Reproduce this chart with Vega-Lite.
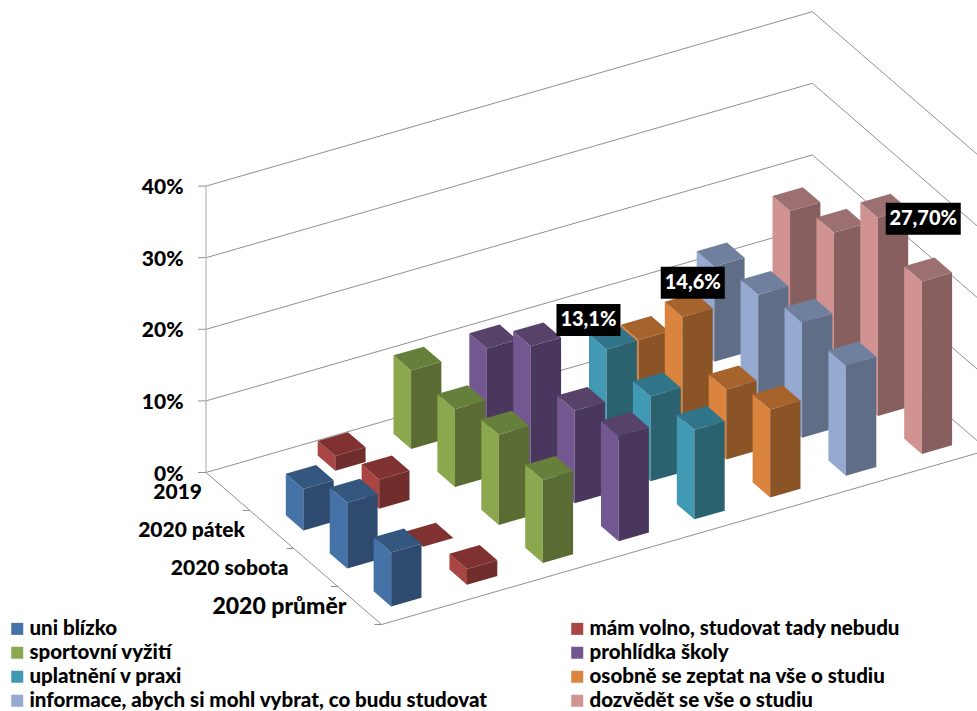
{
  "$schema": "https://vega.github.io/schema/vega-lite/v6.json",
  "width": 977,
  "height": 711,
  "padding": 0,
  "autosize": {"type": "none"},
  "background": "white",
  "config": {"view": {"stroke": null}},
  "datasets": {
    "bars": [
      {"series": "dozvědět se vše o studiu", "period": "2019", "value": 18.0},
      {"series": "dozvědět se vše o studiu", "period": "2020 pátek", "value": 20.3},
      {"series": "dozvědět se vše o studiu", "period": "2020 sobota", "value": 27.7, "label": "27,70%"},
      {"series": "dozvědět se vše o studiu", "period": "2020 průměr", "value": 24.1},
      {"series": "informace, abych si mohl vybrat, co budu studovat", "period": "2019", "value": 13.3},
      {"series": "informace, abych si mohl vybrat, co budu studovat", "period": "2020 pátek", "value": 14.65},
      {"series": "informace, abych si mohl vybrat, co budu studovat", "period": "2020 sobota", "value": 16.1},
      {"series": "informace, abych si mohl vybrat, co budu studovat", "period": "2020 průměr", "value": 15.4},
      {"series": "osobně se zeptat na vše o studiu", "period": "2019", "value": 6.1},
      {"series": "osobně se zeptat na vše o studiu", "period": "2020 pátek", "value": 14.6, "label": "14,6%"},
      {"series": "osobně se zeptat na vše o studiu", "period": "2020 sobota", "value": 9.8},
      {"series": "osobně se zeptat na vše o studiu", "period": "2020 průměr", "value": 12.3},
      {"series": "uplatnění v praxi", "period": "2020 pátek", "value": 13.1, "label": "13,1%"},
      {"series": "uplatnění v praxi", "period": "2020 sobota", "value": 11.85},
      {"series": "uplatnění v praxi", "period": "2020 průměr", "value": 12.5},
      {"series": "prohlídka školy", "period": "2019", "value": 11.0},
      {"series": "prohlídka školy", "period": "2020 pátek", "value": 16.6},
      {"series": "prohlídka školy", "period": "2020 sobota", "value": 12.9},
      {"series": "prohlídka školy", "period": "2020 průměr", "value": 14.7},
      {"series": "sportovní vyžití", "period": "2019", "value": 10.95},
      {"series": "sportovní vyžití", "period": "2020 pátek", "value": 10.85},
      {"series": "sportovní vyžití", "period": "2020 sobota", "value": 12.6},
      {"series": "sportovní vyžití", "period": "2020 průměr", "value": 11.6},
      {"series": "mám volno, studovat tady nebudu", "period": "2019", "value": 2.05},
      {"series": "mám volno, studovat tady nebudu", "period": "2020 pátek", "value": 4.1},
      {"series": "mám volno, studovat tady nebudu", "period": "2020 sobota", "value": 0},
      {"series": "mám volno, studovat tady nebudu", "period": "2020 průměr", "value": 2.2},
      {"series": "uni blízko", "period": "2020 pátek", "value": 5.8},
      {"series": "uni blízko", "period": "2020 sobota", "value": 9.2},
      {"series": "uni blízko", "period": "2020 průměr", "value": 7.55}
    ],
    "levels": [{"level": 0}, {"level": 10}, {"level": 20}, {"level": 30}, {"level": 40}],
    "periods": [
      {"period": "2019"},
      {"period": "2020 pátek"},
      {"period": "2020 sobota"},
      {"period": "2020 průměr"}
    ],
    "stops": [{"stop": 0}, {"stop": 1}, {"stop": 2}, {"stop": 3}, {"stop": 4}]
  },
  "encoding": {
    "x": {"field": "px", "type": "quantitative", "axis": null, "scale": {"domain": [0, 977], "range": [0, 977], "nice": false, "zero": false}},
    "y": {"field": "py", "type": "quantitative", "axis": null, "scale": {"domain": [0, 711], "range": [0, 711], "nice": false, "zero": false}}
  },
  "layer": [
    {
      "description": "Wall grid lines: back wall, then the right side wall",
      "data": {"name": "levels"},
      "transform": [
        {"calculate": "[0, 1, 2]", "as": "v"},
        {"flatten": ["v"]},
        {"calculate": "206 + 75.8 * [0, 8, 8][datum.v] + 43.9 * [0, 0, 4][datum.v]", "as": "px"},
        {"calculate": "472.5 - 21.8 * [0, 8, 8][datum.v] + 38 * [0, 0, 4][datum.v] - 7.16 * datum.level", "as": "py"}
      ],
      "mark": {"type": "line", "stroke": "#8f8f8f", "strokeWidth": 1, "clip": true},
      "encoding": {"detail": {"field": "level"}, "order": {"field": "v"}}
    },
    {
      "description": "Floor edges on the left and front",
      "data": {"values": [{"v": 0}, {"v": 1}, {"v": 2}]},
      "transform": [
        {"calculate": "206 + 75.8 * [0, 0, 8][datum.v] + 43.9 * [0, 4, 4][datum.v]", "as": "px"},
        {"calculate": "472.5 - 21.8 * [0, 0, 8][datum.v] + 38 * [0, 4, 4][datum.v]", "as": "py"}
      ],
      "mark": {"type": "line", "stroke": "#8f8f8f", "strokeWidth": 1, "clip": true},
      "encoding": {"order": {"field": "v"}}
    },
    {
      "description": "Vertical value axis line",
      "data": {"values": [{"v": 0}, {"v": 40}]},
      "transform": [
        {"calculate": "206", "as": "px"},
        {"calculate": "472.5 - 7.16 * datum.v", "as": "py"}
      ],
      "mark": {"type": "line", "stroke": "#c4c4c4", "strokeWidth": 1.5},
      "encoding": {"order": {"field": "v"}}
    },
    {
      "description": "Value axis ticks",
      "data": {"name": "levels"},
      "transform": [
        {"calculate": "206", "as": "px"},
        {"calculate": "198", "as": "px2"},
        {"calculate": "472.5 - 7.16 * datum.level", "as": "py"}
      ],
      "mark": {"type": "rule", "stroke": "#8f8f8f", "strokeWidth": 1},
      "encoding": {"x2": {"field": "px2"}}
    },
    {
      "description": "Period axis ticks along the floor edge",
      "data": {"name": "stops"},
      "transform": [
        {"calculate": "206 + 43.9 * datum.stop", "as": "px"},
        {"calculate": "datum.px - 7", "as": "px2"},
        {"calculate": "472.5 + 38 * datum.stop", "as": "py"}
      ],
      "mark": {"type": "rule", "stroke": "#8f8f8f", "strokeWidth": 1},
      "encoding": {"x2": {"field": "px2"}}
    },
    {
      "description": "Value axis labels",
      "data": {"name": "levels"},
      "transform": [
        {"calculate": "183.5", "as": "px"},
        {"calculate": "474.5 - 7.16 * datum.level", "as": "py"},
        {"calculate": "datum.level + '%'", "as": "txt"}
      ],
      "mark": {"type": "text", "align": "right", "baseline": "middle", "font": "Lato", "fontSize": 21, "fontWeight": 900, "color": "black"},
      "encoding": {"text": {"field": "txt"}}
    },
    {
      "description": "Period labels beside the floor edge; the nearest one is set a little larger",
      "data": {"name": "periods"},
      "transform": [
        {"calculate": "indexof(['2019', '2020 pátek', '2020 sobota', '2020 průměr'], datum.period)", "as": "j"},
        {"calculate": "[202, 245, 288.5, 346.5][datum.j]", "as": "px"},
        {"calculate": "493 + 38 * datum.j", "as": "py"}
      ],
      "mark": {"type": "text", "align": "right", "baseline": "middle", "font": "Lato", "fontWeight": 900, "color": "black"},
      "encoding": {
        "text": {"field": "period"},
        "size": {"condition": {"test": "datum.j == 3", "value": 23}, "value": 21}
      }
    },
    {
      "description": "Bar faces, painted back to front; each bar has a left, a right and a top face",
      "data": {"name": "bars"},
      "transform": [
        {"calculate": "indexof(['uni blízko', 'mám volno, studovat tady nebudu', 'sportovní vyžití', 'prohlídka školy', 'uplatnění v praxi', 'osobně se zeptat na vše o studiu', 'informace, abych si mohl vybrat, co budu studovat', 'dozvědět se vše o studiu'], datum.series)", "as": "i"},
        {"calculate": "indexof(['2019', '2020 pátek', '2020 sobota', '2020 průměr'], datum.period)", "as": "j"},
        {"calculate": "[0, 1, 2]", "as": "f"},
        {"flatten": ["f"]},
        {"calculate": "[0, 1, 2, 3]", "as": "v"},
        {"flatten": ["v"]},
        {"calculate": "datum.i + 0.3 + [[0, 0, 0, 0], [0, 0.4, 0.4, 0], [0, 0, 0.4, 0.4]][datum.f][datum.v]", "as": "s"},
        {"calculate": "datum.j + 0.3 + [[0, 0.4, 0.4, 0], [0.4, 0.4, 0.4, 0.4], [0, 0.4, 0.4, 0]][datum.f][datum.v]", "as": "c"},
        {"calculate": "datum.value * [[0, 0, 1, 1], [0, 0, 1, 1], [1, 1, 1, 1]][datum.f][datum.v]", "as": "h"},
        {"calculate": "206 + 75.8 * datum.s + 43.9 * datum.c", "as": "px"},
        {"calculate": "472.5 - 21.8 * datum.s + 38 * datum.c - 7.16 * datum.h", "as": "py"},
        {"calculate": "datum.i + ':' + ['left', 'right', 'top'][datum.f]", "as": "shade"},
        {"calculate": "'bar ' + datum.i + '/' + datum.j + '/' + datum.f", "as": "face"}
      ],
      "mark": {"type": "line", "filled": true, "strokeWidth": 0, "interpolate": "linear-closed"},
      "encoding": {
        "detail": {"field": "face"},
        "order": {"field": "v"},
        "fill": {
          "field": "shade",
          "type": "nominal",
          "legend": null,
          "scale": {
            "domain": ["0:left", "0:right", "0:top", "1:left", "1:right", "1:top", "2:left", "2:right", "2:top", "3:left", "3:right", "3:top", "4:left", "4:right", "4:top", "5:left", "5:right", "5:top", "6:left", "6:right", "6:top", "7:left", "7:right", "7:top"],
            "range": ["#4573a7", "#2e4a6e", "#33577f", "#a94644", "#6f2d2b", "#803231", "#8ca84f", "#5a6b33", "#66803b", "#735790", "#49375d", "#574369", "#4299b3", "#2a6270", "#31758a", "#db843d", "#8a5427", "#a6632b", "#95a9d1", "#5f6d86", "#6f809f", "#d19392", "#875f5f", "#9c7070"]
          }
        }
      }
    },
    {
      "description": "Black callout boxes behind the three stated values",
      "data": {"name": "bars"},
      "transform": [
        {"filter": "datum.label"},
        {"calculate": "indexof(['uni blízko', 'mám volno, studovat tady nebudu', 'sportovní vyžití', 'prohlídka školy', 'uplatnění v praxi', 'osobně se zeptat na vše o studiu', 'informace, abych si mohl vybrat, co budu studovat', 'dozvědět se vše o studiu'], datum.series)", "as": "i"},
        {"calculate": "indexof(['2019', '2020 pátek', '2020 sobota', '2020 průměr'], datum.period)", "as": "j"},
        {"calculate": "206 + 75.8 * (datum.i + 0.5) + 43.9 * (datum.j + 0.5) + (datum.i == 4 ? -24.5 : datum.i == 5 ? 4 : 39)", "as": "cx"},
        {"calculate": "472.5 - 21.8 * (datum.i + 0.5) + 38 * (datum.j + 0.5) - 7.16 * datum.value + (datum.i == 4 ? -17.6 : datum.i == 5 ? -22.4 : 13)", "as": "cy"},
        {"calculate": "datum.label == '27,70%' ? 37.5 : 32", "as": "hw"},
        {"calculate": "datum.cx - datum.hw", "as": "px"},
        {"calculate": "datum.cx + datum.hw", "as": "px2"},
        {"calculate": "datum.cy - 16", "as": "py"},
        {"calculate": "datum.cy + 16", "as": "py2"}
      ],
      "mark": {"type": "rect", "color": "black"},
      "encoding": {"x2": {"field": "px2"}, "y2": {"field": "py2"}}
    },
    {
      "description": "Stated values in white on the callout boxes",
      "data": {"name": "bars"},
      "transform": [
        {"filter": "datum.label"},
        {"calculate": "indexof(['uni blízko', 'mám volno, studovat tady nebudu', 'sportovní vyžití', 'prohlídka školy', 'uplatnění v praxi', 'osobně se zeptat na vše o studiu', 'informace, abych si mohl vybrat, co budu studovat', 'dozvědět se vše o studiu'], datum.series)", "as": "i"},
        {"calculate": "indexof(['2019', '2020 pátek', '2020 sobota', '2020 průměr'], datum.period)", "as": "j"},
        {"calculate": "206 + 75.8 * (datum.i + 0.5) + 43.9 * (datum.j + 0.5) + (datum.i == 4 ? -24.5 : datum.i == 5 ? 4 : 39)", "as": "px"},
        {"calculate": "472.5 - 21.8 * (datum.i + 0.5) + 38 * (datum.j + 0.5) - 7.16 * datum.value + (datum.i == 4 ? -17.6 : datum.i == 5 ? -22.4 : 13)", "as": "py"}
      ],
      "mark": {"type": "text", "align": "center", "baseline": "middle", "font": "Lato", "fontSize": 20, "fontWeight": 900, "color": "white"},
      "encoding": {"text": {"field": "label"}}
    },
    {
      "description": "Invisible carrier for the series legend",
      "data": {"name": "bars"},
      "mark": {"type": "square", "filled": true},
      "encoding": {
        "x": {"value": 0},
        "y": {"value": 0},
        "size": {"value": 0},
        "color": {
          "field": "series",
          "type": "nominal",
          "scale": {
            "domain": ["uni blízko", "mám volno, studovat tady nebudu", "sportovní vyžití", "prohlídka školy", "uplatnění v praxi", "osobně se zeptat na vše o studiu", "informace, abych si mohl vybrat, co budu studovat", "dozvědět se vše o studiu"],
            "range": ["#4573a7", "#a94644", "#8ca84f", "#735790", "#4299b3", "#db843d", "#95a9d1", "#d19392"]
          },
          "legend": {
            "title": null,
            "orient": "none",
            "legendX": 7,
            "legendY": 618.5,
            "direction": "horizontal",
            "columns": 2,
            "gridAlign": "all",
            "columnPadding": 79,
            "rowPadding": 3,
            "padding": 0,
            "symbolType": "square",
            "symbolSize": 144,
            "symbolStrokeWidth": 0,
            "symbolOpacity": 1,
            "labelOffset": 2,
            "labelFont": "Lato",
            "labelFontSize": 20.5,
            "labelFontWeight": 900,
            "labelColor": "black",
            "labelLimit": 600
          }
        }
      }
    }
  ]
}
